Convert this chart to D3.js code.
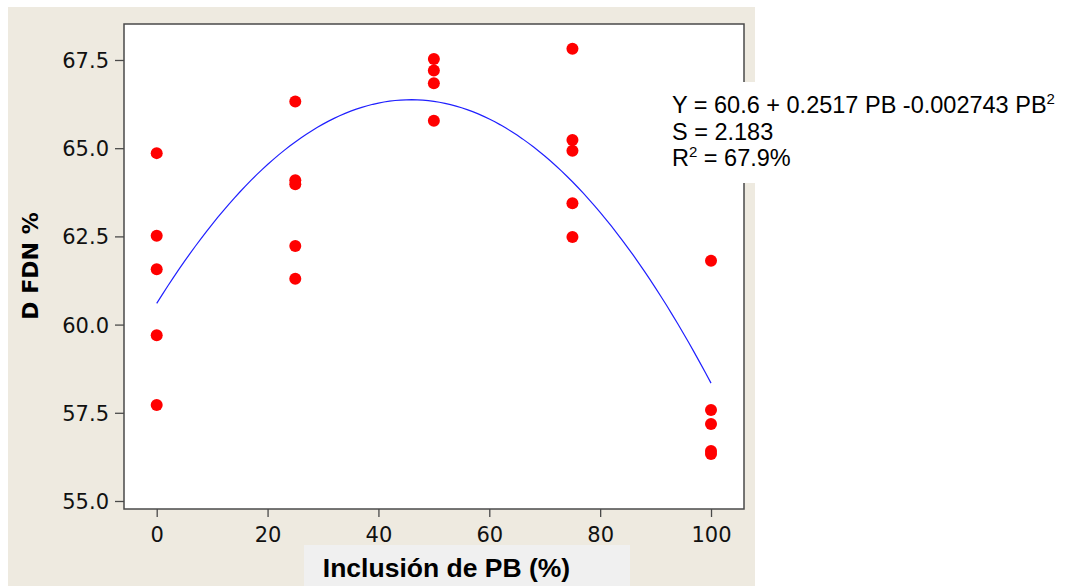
<!DOCTYPE html>
<html>
<head>
<meta charset="utf-8">
<script src="https://cdn.jsdelivr.net/npm/d3@7"></script>
<style>
html,body{margin:0;padding:0;background:#ffffff;}
svg{display:block;}
</style>
</head>
<body>
<svg id="chart" width="1078" height="586"></svg>
<script>
// ---- data ----
const inclusion = [0, 0, 0, 0, 0,
                   25, 25, 25, 25, 25,
                   50, 50, 50, 50,
                   75, 75, 75, 75, 75,
                   100, 100, 100, 100, 100];
const dfdn = [64.86, 62.52, 61.57, 59.70, 57.72,
              66.32, 64.09, 63.98, 62.23, 61.30,
              67.53, 67.20, 66.84, 65.78,
              67.82, 65.23, 64.93, 63.44, 62.48,
              61.81, 57.58, 57.18, 56.42, 56.33];
const fitCoefficients = [60.6, 0.2517, -0.002743];
const xTicks = [0, 20, 40, 60, 80, 100];
const yTicks = [55.0, 57.5, 60.0, 62.5, 65.0, 67.5];
const xTitle = "Inclusión de PB (%)";
const yTitle = "D FDN %";
const statLines = ["S = 2.183"];

const svg = d3.select("#chart");

// background panel
svg.append("rect").attr("x", 8).attr("y", 7).attr("width", 747).attr("height", 579).attr("fill", "#EEEAE0");

const plot = {left: 124, top: 24, right: 744, bottom: 509};
const x = d3.scaleLinear().domain([-5.9, 105.95]).range([plot.left, plot.right]);
const y = d3.scaleLinear().domain([54.773, 68.52]).range([plot.bottom, plot.top]);

// plot area
svg.append("rect").attr("x", plot.left).attr("y", plot.top)
  .attr("width", plot.right - plot.left).attr("height", plot.bottom - plot.top)
  .attr("fill", "#ffffff").attr("stroke", "#4a4a4a").attr("stroke-width", 1.5);

// axes
const tickFont = "'DejaVu Sans', sans-serif";
const xAxis = svg.append("g").attr("transform", `translate(0,${plot.bottom})`)
  .call(d3.axisBottom(x).tickValues(xTicks).tickFormat(d3.format("d")).tickSize(8).tickPadding(6));
const yAxis = svg.append("g").attr("transform", `translate(${plot.left},0)`)
  .call(d3.axisLeft(y).tickValues(yTicks).tickFormat(d3.format(".1f")).tickSize(9).tickPadding(5));
[xAxis, yAxis].forEach(g => {
  g.select(".domain").remove();
  g.selectAll(".tick line").attr("stroke", "#4a4a4a").attr("stroke-width", 1.3);
  g.selectAll(".tick text").attr("fill", "#111").attr("font-family", tickFont).attr("font-size", 21);
});
xAxis.selectAll(".tick text").attr("dy", null).attr("y", 33);
yAxis.selectAll(".tick text").attr("dy", "0.36em").attr("x", -15);

// fitted curve
const curveXs = d3.range(0, 100.01, 1);
const fit = v => fitCoefficients[0] + fitCoefficients[1] * v + fitCoefficients[2] * v * v;
svg.append("path")
  .datum(curveXs)
  .attr("fill", "none").attr("stroke", "#2020ff").attr("stroke-width", 1.2)
  .attr("d", d3.line().x(d => x(d)).y(d => y(fit(d))));

// points
svg.append("g").selectAll("circle")
  .data(inclusion.map((v, i) => [v, dfdn[i]]))
  .join("circle")
  .attr("cx", d => x(d[0])).attr("cy", d => y(d[1])).attr("r", 6)
  .attr("fill", "#ff0000");

// equation box
svg.append("rect").attr("x", 665).attr("y", 82).attr("width", 413).attr("height", 101).attr("fill", "#ffffff");
const eqFont = "'Liberation Sans', Arial, sans-serif";
const eq = svg.append("g").attr("font-family", eqFont).attr("font-size", 23.5).attr("fill", "#000");
const t1 = eq.append("text").attr("x", 672).attr("y", 113);
t1.append("tspan").text(`Y = ${fitCoefficients[0]} + ${fitCoefficients[1]} PB ${fitCoefficients[2]} PB`);
t1.append("tspan").attr("font-size", 15).attr("dy", -9).text("2");
eq.append("text").attr("x", 672).attr("y", 139.5).text(statLines[0]);
const t3 = eq.append("text").attr("x", 672).attr("y", 166);
t3.append("tspan").text("R");
t3.append("tspan").attr("font-size", 15).attr("dy", -9).text("2");
t3.append("tspan").attr("dy", 9).text(" = 67.9%");

// x title box + title
svg.append("rect").attr("x", 304).attr("y", 545).attr("width", 326).attr("height", 41).attr("fill", "#F0F0F0");
svg.append("text").attr("x", 446.5).attr("y", 577).attr("text-anchor", "middle")
  .attr("font-family", "'Liberation Sans', Arial, sans-serif").attr("font-weight", "bold")
  .attr("font-size", 26.5).attr("fill", "#000").text(xTitle);

// y title
svg.append("text").attr("transform", "translate(38,266) rotate(-90)").attr("text-anchor", "middle")
  .attr("font-family", "'DejaVu Sans', sans-serif").attr("font-weight", "bold")
  .attr("font-size", 22).attr("fill", "#000").text(yTitle);
</script>
</body>
</html>
